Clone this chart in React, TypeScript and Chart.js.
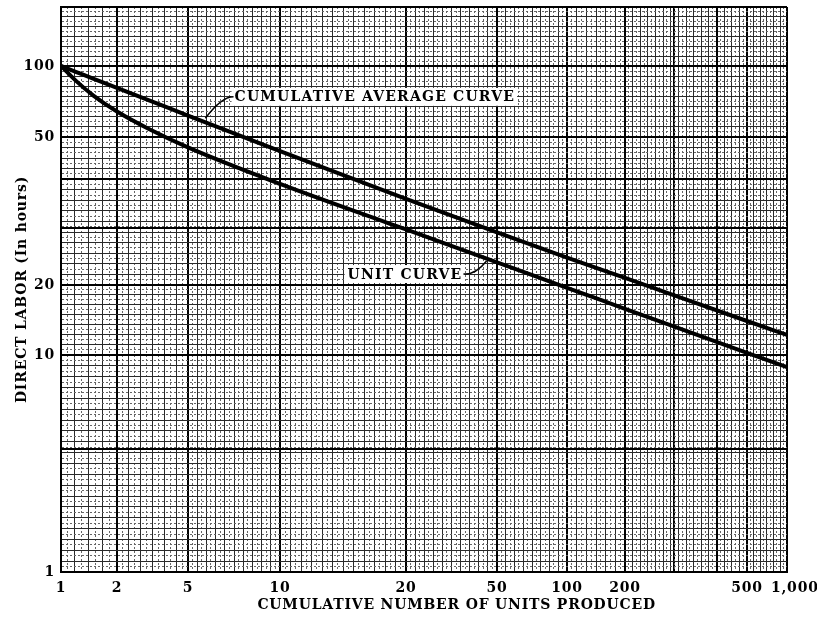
import React, { useEffect, useRef } from 'react';
import { Chart, registerables, LogarithmicScale } from 'chart.js';

Chart.register(...registerables);

// ---------------- data ----------------
const UNITS_PRODUCED = [1, 1.2, 1.5, 2, 3, 5, 10, 20, 50, 100, 200, 500, 1000];
const CUMULATIVE_AVERAGE_HOURS = [100, 94.5, 88.1, 80.8, 71.7, 61.6, 45.8, 34.1, 27.7, 23.7, 20.9, 14.0, 12.2];
const UNIT_HOURS = [100, 86.7, 74.7, 64.1, 54.2, 46.9, 37.4, 28.2, 23.0, 19.45, 15.8, 10.2, 8.8];

const X_TICK_VALUES = [1, 2, 5, 10, 20, 50, 100, 200, 500, 1000];
const X_TICK_LABELS = ['1', '2', '5', '10', '20', '50', '100', '200', '500', '1,000'];
const Y_TICK_VALUES = [1, 10, 20, 50, 100];
const Y_TICK_LABELS = ['1', '10', '20', '50', '100'];
const Y_MAX = 180;

const X_TITLE = 'CUMULATIVE NUMBER OF UNITS PRODUCED';
const Y_TITLE = 'DIRECT LABOR (In hours)';

const CURVE_NOTES = [
  { text: 'CUMULATIVE AVERAGE CURVE', textX: 7.1, textY: 74, pointX: 5.7, pointY: 60, side: 'left' },
  { text: 'UNIT CURVE', textX: 14.5, textY: 21.4, pointX: 45, pointY: 23.2, side: 'right' },
];

// ---------------- graph paper layout (style) ----------------
// where each printed label sits along the axis (fraction of axis length)
const X_PAPER_VALUES = X_TICK_VALUES;
const X_PAPER_POS = [0, 0.0771, 0.1749, 0.3017, 0.4752, 0.6006, 0.697, 0.7769, 0.9449, 1];
const Y_PAPER_VALUES = [1, 10, 20, 50, 100, Y_MAX];
const Y_PAPER_POS = [0, 0.3841, 0.508, 0.7699, 0.8956, 1];
const X_GRID_DIVS = [8, 12, 20, 24, 20, 16, 12, 32, 12];
const Y_GRID_DIVS = [40, 14, 28, 14, 12];
const X_HEAVY = [290, 400];
const Y_HEAVY = [3.7, 28.5, 38.6];
const X_TITLE_POS = 0.545; // centre of the x title along the axis

const AXIS_ANCHORS: Record<string, { v: number[]; p: number[] }> = {
  x: { v: X_PAPER_VALUES, p: X_PAPER_POS },
  y: { v: Y_PAPER_VALUES, p: Y_PAPER_POS },
};

class PaperScale extends LogarithmicScale {
  static id = 'paper';
  static defaults = {};
  getPixelForValue(value: number) {
    const a = AXIS_ANCHORS[(this as any).id];
    if (value === undefined || value === null || !(value > 0)) return NaN;
    const lv = Math.log10(value);
    let i = 0;
    while (i < a.v.length - 2 && lv > Math.log10(a.v[i + 1])) i++;
    const l0 = Math.log10(a.v[i]);
    const l1 = Math.log10(a.v[i + 1]);
    const d = a.p[i] + ((lv - l0) / (l1 - l0)) * (a.p[i + 1] - a.p[i]);
    return (this as any).getPixelForDecimal(d);
  }
  getValueForPixel(pixel: number) {
    const a = AXIS_ANCHORS[(this as any).id];
    const d = (this as any).getDecimalForPixel(pixel);
    let i = 0;
    while (i < a.p.length - 2 && d > a.p[i + 1]) i++;
    const l0 = Math.log10(a.v[i]);
    const l1 = Math.log10(a.v[i + 1]);
    const t = (d - a.p[i]) / (a.p[i + 1] - a.p[i]);
    return Math.pow(10, l0 + t * (l1 - l0));
  }
}
Chart.register(PaperScale as any);

type GridTick = { value: number; cls: 'major' | 'solid' | 'dot'; lbl?: string };

function buildGrid(values: number[], labels: (string | undefined)[], divs: number[], extra: number[]): GridTick[] {
  const out: GridTick[] = [];
  for (let i = 0; i < values.length - 1; i++) {
    const l0 = Math.log10(values[i]);
    const l1 = Math.log10(values[i + 1]);
    const n = divs[i];
    for (let k = 0; k < n; k++) {
      if (k === 0) out.push({ value: values[i], cls: 'major', lbl: labels[i] });
      else out.push({ value: Math.pow(10, l0 + ((l1 - l0) * k) / n), cls: k % 2 === 0 ? 'solid' : 'dot' });
    }
  }
  const last = values.length - 1;
  out.push({ value: values[last], cls: 'major', lbl: labels[last] });
  for (const e of extra) out.push({ value: e, cls: 'major' });
  return out.sort((a, b) => a.value - b.value);
}

const X_GRID = buildGrid(
  X_PAPER_VALUES,
  // the last printed label sits a little right of its line on the paper
  X_TICK_LABELS.map((l, i) => (i === X_TICK_LABELS.length - 1 ? '\u2002\u2002' + l : l)),
  X_GRID_DIVS,
  X_HEAVY
);
const Y_GRID = buildGrid(
  Y_PAPER_VALUES,
  Y_PAPER_VALUES.map((v) => {
    const i = Y_TICK_VALUES.indexOf(v);
    return i >= 0 ? Y_TICK_LABELS[i] : undefined;
  }),
  Y_GRID_DIVS,
  Y_HEAVY
);

const GRID_STYLE: Record<string, { color: string; width: number }> = {
  major: { color: '#000000', width: 2 },
  solid: { color: '#2a2a2a', width: 1 },
  dot: { color: '#666666', width: 1 },
};

const FONT_FAMILY = '"DejaVu Serif", "Liberation Serif", serif';

const spacingPlugin = {
  id: 'letterSpacing',
  beforeDraw(chart: any) {
    chart.ctx.letterSpacing = '0.8px';
  },
};

const notesPlugin = {
  id: 'curveNotes',
  afterDatasetsDraw(chart: any) {
    const { ctx } = chart;
    const xs = chart.scales.x;
    const ys = chart.scales.y;
    for (const n of CURVE_NOTES) {
      const tx = xs.getPixelForValue(n.textX);
      const ty = ys.getPixelForValue(n.textY);
      const px = xs.getPixelForValue(n.pointX);
      const py = ys.getPixelForValue(n.pointY);
      ctx.save();
      ctx.font = `bold 14px ${FONT_FAMILY}`;
      ctx.letterSpacing = '1.2px';
      const w = ctx.measureText(n.text).width;
      ctx.fillStyle = '#ffffff';
      ctx.fillRect(tx - 3, ty - 9, w + 5, 18);
      ctx.fillStyle = '#000000';
      ctx.textBaseline = 'middle';
      ctx.textAlign = 'left';
      ctx.fillText(n.text, tx, ty + 1);
      ctx.strokeStyle = '#000000';
      ctx.lineWidth = 1.5;
      ctx.beginPath();
      if (n.side === 'left') {
        ctx.moveTo(tx - 1, ty);
        ctx.quadraticCurveTo(tx - 13, ty, px, py);
      } else {
        const sx = tx + w + 1;
        ctx.moveTo(sx, ty);
        ctx.quadraticCurveTo(sx + 12, ty + 1, px, py);
      }
      ctx.stroke();
      ctx.restore();
    }
  },
  afterDraw(chart: any) {
    const { ctx, chartArea } = chart;
    ctx.save();
    ctx.font = `bold 14px ${FONT_FAMILY}`;
    ctx.letterSpacing = '0.8px';
    ctx.fillStyle = '#000000';
    ctx.textAlign = 'center';
    ctx.textBaseline = 'middle';
    ctx.fillText(X_TITLE, chartArea.left + (chartArea.right - chartArea.left) * X_TITLE_POS, 605);
    ctx.restore();
  },
};

function axisOptions(grid: GridTick[], min: number, max: number, horizontal: boolean) {
  return {
    type: 'paper',
    position: horizontal ? 'bottom' : 'left',
    min,
    max,
    afterBuildTicks: (axis: any) => {
      axis.ticks = grid.map((t) => ({ ...t }));
    },
    afterFit: (axis: any) => {
      if (horizontal) {
        axis.height = 49;
        axis.paddingLeft = 0;
        axis.paddingRight = 0;
      } else {
        axis.width = 61;
        axis.paddingTop = 0;
        axis.paddingBottom = 0;
      }
    },
    grid: {
      drawTicks: false,
      color: (c: any) => (c.tick && c.tick.cls ? GRID_STYLE[c.tick.cls].color : '#000'),
      lineWidth: (c: any) => (c.tick && c.tick.cls ? GRID_STYLE[c.tick.cls].width : 1),
    },
    border: {
      display: true,
      color: '#000',
      width: 2,
      dash: (c: any) => (c.tick && c.tick.cls === 'dot' ? [2, 2] : []),
    },
    ticks: {
      autoSkip: false,
      maxRotation: 0,
      minRotation: 0,
      padding: horizontal ? 8 : 6,
      color: '#000',
      font: { family: FONT_FAMILY, size: 14, weight: 'bold' },
      callback: (_v: any, i: number, ticks: any[]) => (ticks[i] && ticks[i].lbl) || '',
    },
    title: {
      display: !horizontal,
      text: horizontal ? X_TITLE : Y_TITLE,
      color: '#000',
      font: { family: FONT_FAMILY, size: 14, weight: 'bold' },
      padding: horizontal ? { top: 0, bottom: 8 } : { top: 14, bottom: 0 },
    },
  };
}

export default function App() {
  const ref = useRef<HTMLCanvasElement | null>(null);
  useEffect(() => {
    if (!ref.current) return;
    const chart = new Chart(ref.current, {
      type: 'line',
      data: {
        datasets: [
          {
            label: 'Cumulative average curve',
            data: UNITS_PRODUCED.map((u, i) => ({ x: u, y: CUMULATIVE_AVERAGE_HOURS[i] })),
            borderColor: '#000',
            borderWidth: 4,
            pointRadius: 0,
            cubicInterpolationMode: 'monotone',
            fill: false,
          },
          {
            label: 'Unit curve',
            data: UNITS_PRODUCED.map((u, i) => ({ x: u, y: UNIT_HOURS[i] })),
            borderColor: '#000',
            borderWidth: 4,
            pointRadius: 0,
            cubicInterpolationMode: 'monotone',
            fill: false,
          },
        ],
      },
      options: {
        responsive: true,
        maintainAspectRatio: false,
        animation: false,
        layout: { padding: { left: 0, right: 30, top: 7, bottom: 0 } },
        plugins: { legend: { display: false }, tooltip: { enabled: false } },
        scales: {
          x: axisOptions(X_GRID, 1, 1000, true) as any,
          y: axisOptions(Y_GRID, 1, Y_MAX, false) as any,
        },
      } as any,
      plugins: [spacingPlugin, notesPlugin],
    } as any);
    return () => chart.destroy();
  }, []);
  return (
    <div style={{ position: 'fixed', left: 0, top: 0, width: 817, height: 621, background: '#fff' }}>
      <canvas ref={ref} style={{ display: 'block' }} />
    </div>
  );
}
